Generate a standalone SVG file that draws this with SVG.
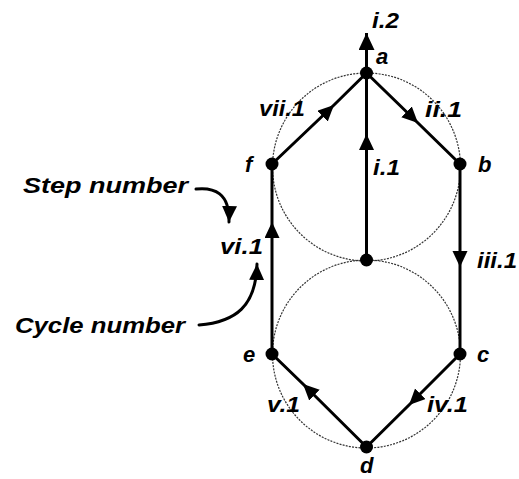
<svg xmlns="http://www.w3.org/2000/svg" width="519" height="479" viewBox="0 0 519 479">
<style>
.lbl{font-family:"Liberation Sans",Arial,sans-serif;font-weight:bold;font-style:italic;font-size:22px;fill:#000}
.edge{stroke:#000;stroke-width:3;fill:none}
.guide{stroke:#333;stroke-width:1.2;fill:none;stroke-dasharray:2,1.2}
.dot{fill:#000}
.curve{stroke:#000;stroke-width:3;fill:none;stroke-linecap:round}
</style>
<defs>
<marker id="ah" markerUnits="userSpaceOnUse" markerWidth="18" markerHeight="16" refX="16" refY="7.5" orient="auto" viewBox="0 0 18 16">
<path d="M0,0 L16,7.5 L0,15 z" fill="#000"/>
</marker>
<marker id="ahbig" markerUnits="userSpaceOnUse" markerWidth="18" markerHeight="18" refX="17" refY="8" orient="auto" viewBox="0 0 18 18">
<path d="M0,0 L17,8 L0,16 z" fill="#000"/>
</marker>
</defs>
<rect width="519" height="479" fill="#fff"/>
<g id="guides">
<circle class="guide" cx="366.5" cy="167" r="94"/>
<circle class="guide" cx="366.5" cy="354" r="94"/>
</g>
<g id="connectors">
<polyline class="edge" points="366.5,260 366.5,134 366.5,73" marker-mid="url(#ah)"/>
<line class="edge" x1="366.5" y1="73" x2="366.5" y2="33" marker-end="url(#ahbig)"/>
<polyline class="edge" points="366.5,73 418,123 460,164" marker-mid="url(#ah)"/>
<polyline class="edge" points="460,164 460,267 460,354" marker-mid="url(#ah)"/>
<polyline class="edge" points="460,354 409,405 366.5,447" marker-mid="url(#ah)"/>
<polyline class="edge" points="366.5,447 303,384 272,354" marker-mid="url(#ah)"/>
<polyline class="edge" points="272,354 272,222 272,164" marker-mid="url(#ah)"/>
<polyline class="edge" points="272,164 334,105 366.5,73" marker-mid="url(#ah)"/>
<path class="curve" d="M196,189 C214,187 230,193 229,222" marker-end="url(#ah)"/>
<path class="curve" d="M199,325 C236,322 256,306 257,264" marker-end="url(#ah)"/>
</g>
<g id="node-a"><circle class="dot" cx="366.5" cy="73" r="6.5"/><text class="lbl" x="376" y="64">a</text></g>
<g id="node-b"><circle class="dot" cx="460" cy="164" r="6.5"/><text class="lbl" x="478" y="172">b</text></g>
<g id="node-c"><circle class="dot" cx="460" cy="354" r="6.5"/><text class="lbl" x="477" y="362">c</text></g>
<g id="node-d"><circle class="dot" cx="366.5" cy="447" r="6.5"/><text class="lbl" x="360" y="473">d</text></g>
<g id="node-e"><circle class="dot" cx="272" cy="354" r="6.5"/><text class="lbl" x="243" y="362">e</text></g>
<g id="node-f"><circle class="dot" cx="272" cy="164" r="6.5"/><text class="lbl" x="245" y="172">f</text></g>
<g id="node-mid"><circle class="dot" cx="366.5" cy="260" r="6.5"/></g>
<g id="labels">
<text class="lbl" x="372" y="28" textLength="27" lengthAdjust="spacingAndGlyphs">i.2</text>
<text class="lbl" x="259" y="116" textLength="46" lengthAdjust="spacingAndGlyphs">vii.1</text>
<text class="lbl" x="425" y="117" textLength="37" lengthAdjust="spacingAndGlyphs">ii.1</text>
<text class="lbl" x="373" y="175" textLength="27" lengthAdjust="spacingAndGlyphs">i.1</text>
<text class="lbl" x="477" y="268" textLength="40" lengthAdjust="spacingAndGlyphs">iii.1</text>
<text class="lbl" x="220" y="254" textLength="43" lengthAdjust="spacingAndGlyphs">vi.1</text>
<text class="lbl" x="267" y="412" textLength="33" lengthAdjust="spacingAndGlyphs">v.1</text>
<text class="lbl" x="427" y="412" textLength="41" lengthAdjust="spacingAndGlyphs">iv.1</text>
<text class="lbl" x="23" y="193" textLength="165" lengthAdjust="spacingAndGlyphs">Step number</text>
<text class="lbl" x="15" y="333" textLength="170" lengthAdjust="spacingAndGlyphs">Cycle number</text>
</g>
</svg>
